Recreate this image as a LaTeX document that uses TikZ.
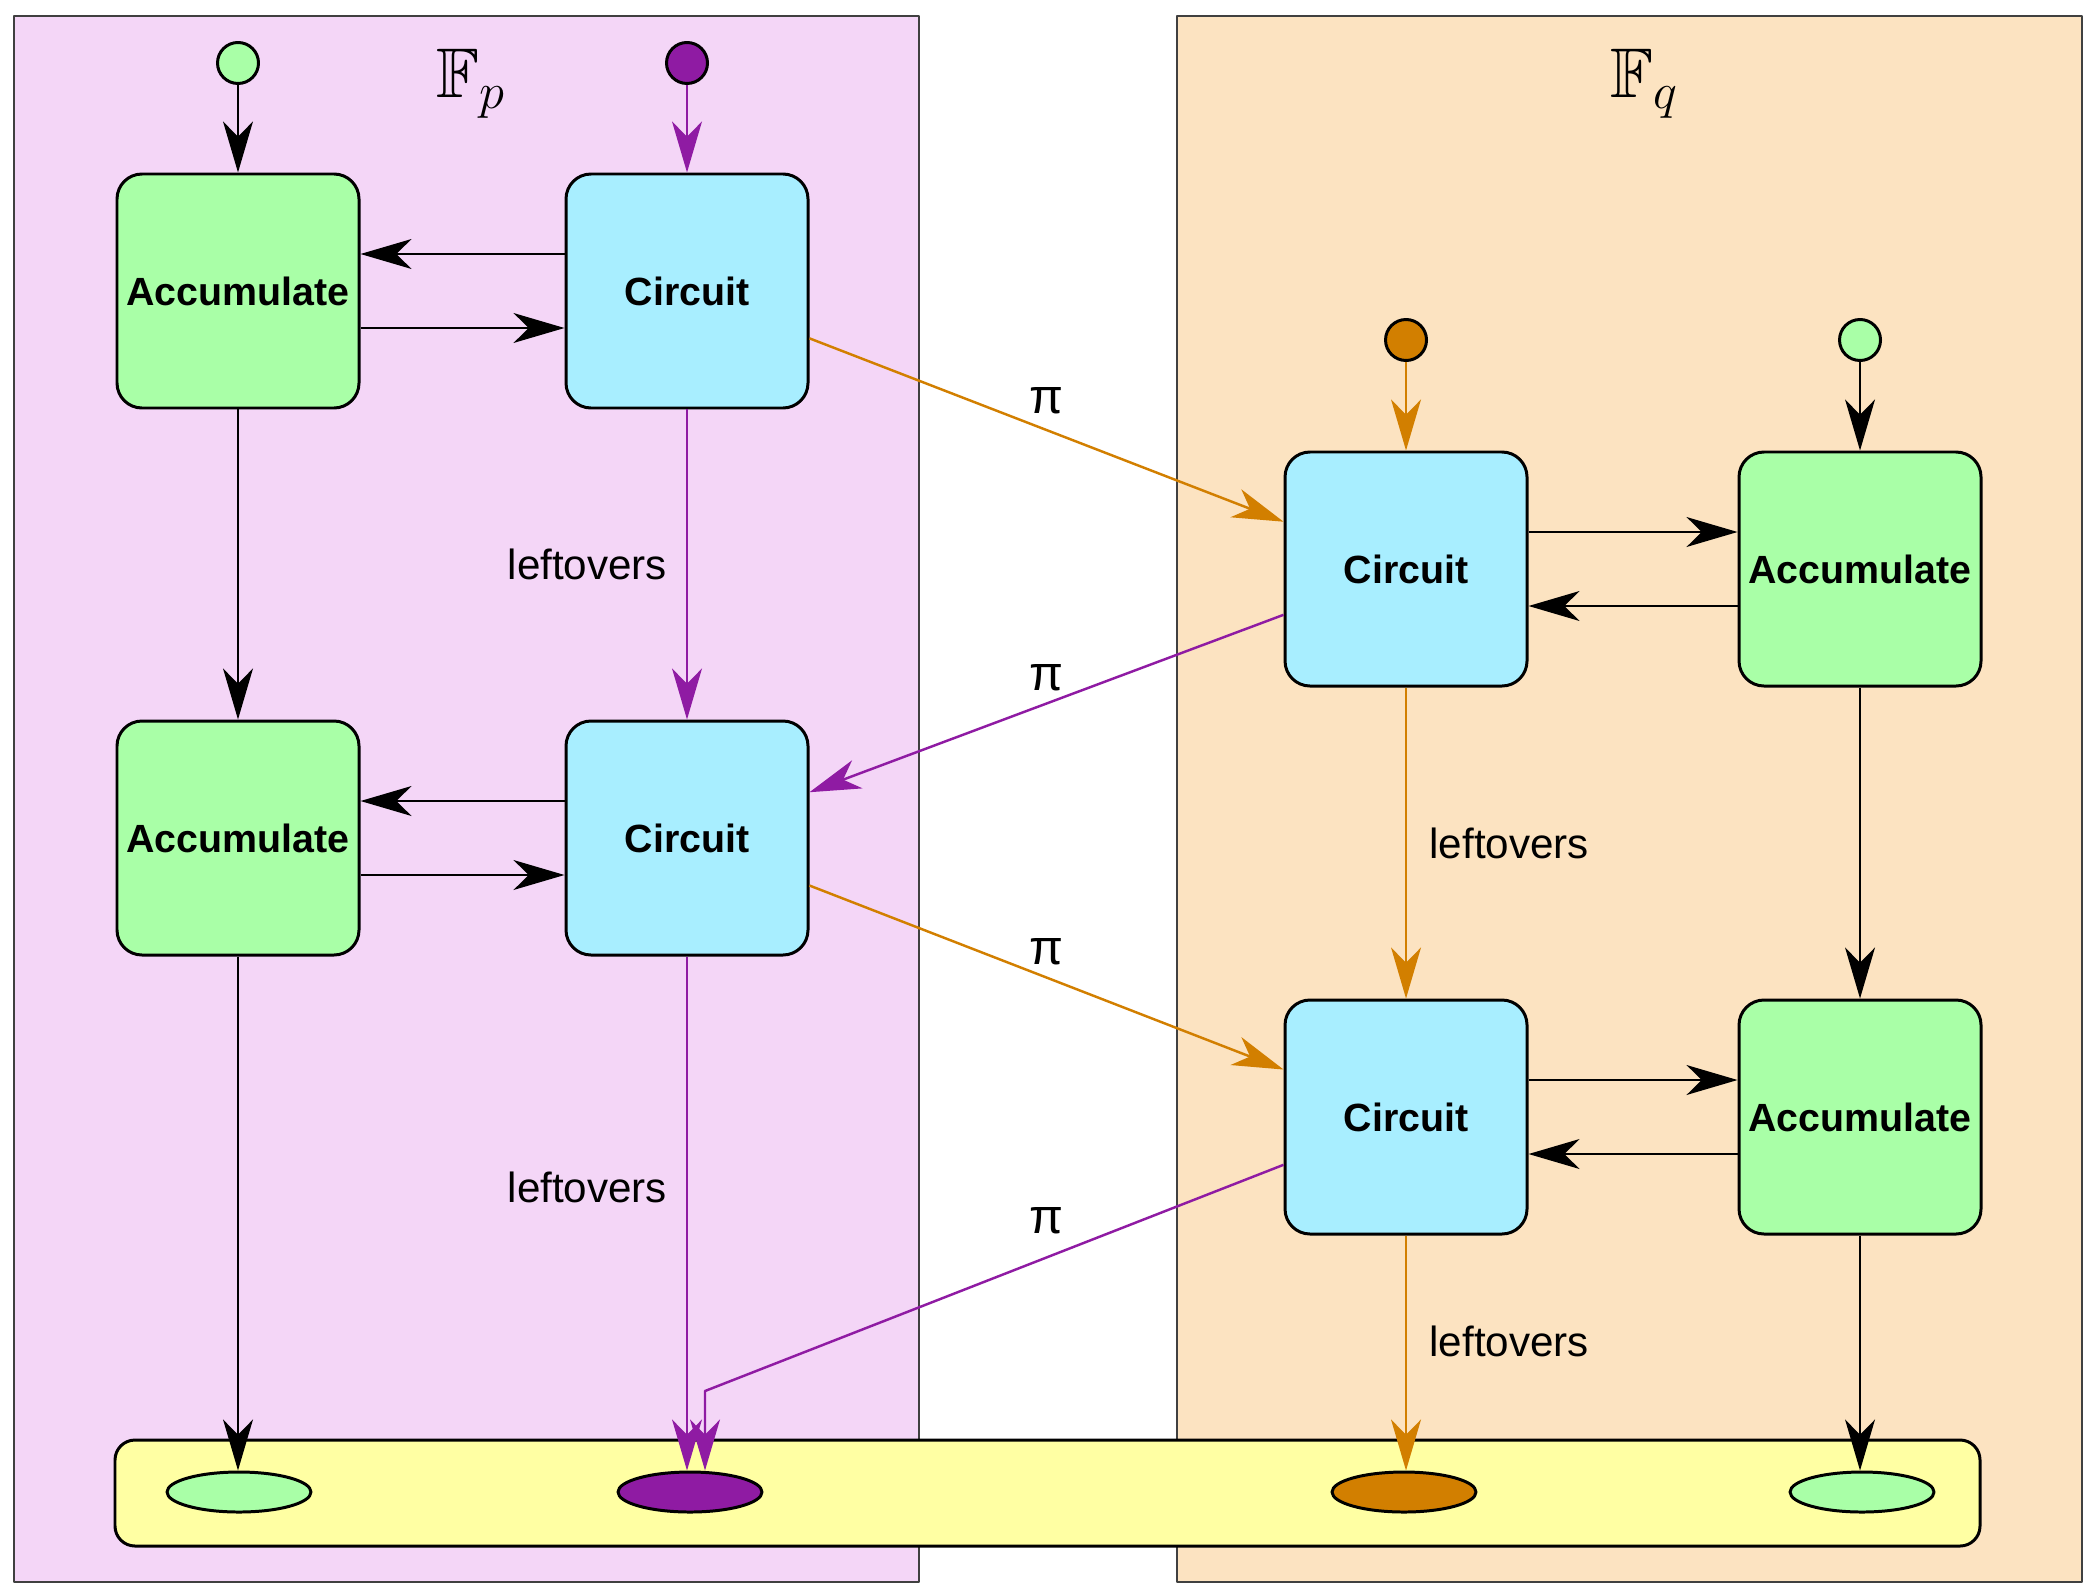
\documentclass[tikz,border=0pt]{standalone}
\usepackage{amssymb}
\usepackage{fontspec}
\setmainfont{Liberation Sans}
\usetikzlibrary{arrows.meta,shapes.geometric}
\definecolor{pinkbg}{HTML}{F4D6F7}
\definecolor{tanbg}{HTML}{FCE3C1}
\definecolor{accgreen}{HTML}{A9FFA7}
\definecolor{circblue}{HTML}{A8EEFF}
\definecolor{baryellow}{HTML}{FFFFA3}
\definecolor{fppurple}{HTML}{8F1BA3}
\definecolor{fqorange}{HTML}{D27F00}
\begin{document}
\begin{tikzpicture}[line join=round, >={Stealth[length=14.5pt,width=8.5pt,inset=4.3pt]},
	accbox/.style={draw, line width=0.85pt, rounded corners=0.25cm, fill=accgreen, inner sep=1pt, minimum width=2.42cm, minimum height=2.34cm, font=\fontsize{11.2}{13}\selectfont\bfseries},
	circbox/.style={accbox, fill=circblue},
	srcdot/.style={draw, line width=0.85pt, circle, minimum size=0.41cm, inner sep=0pt},
	sinkdot/.style={draw, line width=0.85pt, ellipse, minimum width=1.44cm, minimum height=0.40cm, inner sep=0pt},
	lo/.style={text=black, font=\fontsize{12}{14}\selectfont},
	pilab/.style={text=black, font=\fontsize{14}{16}\selectfont},
	flow/.style={->, line width=0.7pt}]
	\useasboundingbox (0,0) rectangle (20.97,15.95);
	% the two fields
	\filldraw[fill=pinkbg, draw=black!75, line width=0.5pt] (0.14,0.13) rectangle (9.19,15.79);
	\filldraw[fill=tanbg, draw=black!75, line width=0.5pt] (11.77,0.13) rectangle (20.82,15.79);
	\node[font=\fontsize{20}{24}\selectfont] (fp) at (4.71,15.11) {$\mathbb{F}_p$};
	\node[font=\fontsize{20}{24}\selectfont] (fq) at (16.45,15.11) {$\mathbb{F}_q$};
	% output bar
	\filldraw[fill=baryellow, line width=0.85pt, rounded corners=0.2cm] (1.15,0.49) rectangle (19.80,1.55);
	\node[sinkdot, fill=accgreen] (e1) at (2.39,1.03) {};
	\node[sinkdot, fill=fppurple] (e2) at (6.90,1.03) {};
	\node[sinkdot, fill=fqorange] (e3) at (14.04,1.03) {};
	\node[sinkdot, fill=accgreen] (e4) at (18.62,1.03) {};
	% boxes
	\node[accbox] (a1) at (2.38,13.04) {Accumulate};
	\node[circbox] (c1) at (6.87,13.04) {Circuit};
	\node[accbox] (a2) at (2.38,7.57) {Accumulate};
	\node[circbox] (c2) at (6.87,7.57) {Circuit};
	\node[circbox] (rc1) at (14.06,10.26) {Circuit};
	\node[accbox] (ra1) at (18.60,10.26) {Accumulate};
	\node[circbox] (rc2) at (14.06,4.78) {Circuit};
	\node[accbox] (ra2) at (18.60,4.78) {Accumulate};
	% inputs
	\node[srcdot, fill=accgreen] (s1) at (2.38,15.32) {};
	\node[srcdot, fill=fppurple] (s2) at (6.87,15.32) {};
	\node[srcdot, fill=fqorange] (s3) at (14.06,12.55) {};
	\node[srcdot, fill=accgreen] (s4) at (18.60,12.55) {};
	\draw[flow] (s1) -- (a1);
	\draw[flow, fppurple] (s2) -- (c1);
	\draw[flow, fqorange] (s3) -- (rc1);
	\draw[flow] (s4) -- (ra1);
	% accumulate <-> circuit
	\foreach \a/\c in {a1/c1, a2/c2}{
		\draw[flow] ([yshift=0.37cm]\c.west) -- ([yshift=0.37cm]\a.east);
		\draw[flow] ([yshift=-0.37cm]\a.east) -- ([yshift=-0.37cm]\c.west);}
	\foreach \c/\a in {rc1/ra1, rc2/ra2}{
		\draw[flow] ([yshift=0.37cm]\c.east) -- ([yshift=0.37cm]\a.west);
		\draw[flow] ([yshift=-0.37cm]\a.west) -- ([yshift=-0.37cm]\c.east);}
	% down the columns
	\draw[flow] (a1) -- (a2);
	\draw[flow] (a2) -- (a2 |- e1.north);
	\draw[flow, fppurple] (c1) -- node[lo, left=2pt] {leftovers} (c2);
	\draw[flow, fppurple] (c2) -- node[lo, left=2pt, pos=0.45] {leftovers} (c2 |- e2.north);
	\draw[flow, fqorange] (rc1) -- node[lo, right=3pt] {leftovers} (rc2);
	\draw[flow, fqorange] (rc2) -- node[lo, right=3pt, pos=0.45] {leftovers} (rc2 |- e3.north);
	\draw[flow] (ra1) -- (ra2);
	\draw[flow] (ra2) -- (ra2 |- e4.north);
	% across the fields
	\draw[flow, fqorange] (c1) -- node[pilab, above=1pt] {π} (rc1);
	\draw[flow, fppurple] (rc1) -- node[pilab, above] {π} (c2);
	\draw[flow, fqorange] (c2) -- node[pilab, above] {π} (rc2);
	\coordinate (kink) at (7.05,2.04);
	\draw[flow, fppurple] (rc2) -- node[pilab, pos=0.41, above=3pt] {π} (kink) -- (kink |- e2.north);
\end{tikzpicture}
\end{document}
